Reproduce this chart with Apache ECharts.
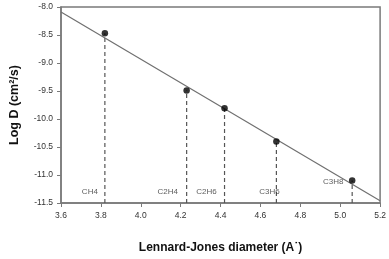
<!DOCTYPE html>
<html>
<head>
<meta charset="utf-8">
<script src="https://cdn.jsdelivr.net/npm/echarts@6/dist/echarts.min.js"></script>
<style>html,body{margin:0;padding:0;background:#fff}#c{width:389px;height:259px}</style>
</head>
<body>
<div id="c"></div>
<script>
const gases = ['CH4', 'C2H4', 'C2H6', 'C3H6', 'C3H8'];
const ljDiameter = [3.82, 4.23, 4.42, 4.68, 5.06];
const logD = [-8.47, -9.49, -9.81, -10.40, -11.10];
const fitLine = [[3.6, -8.09], [5.2, -11.46]];
const xTicks = { min: 3.6, max: 5.2, step: 0.2 };
const yTicks = { min: -11.5, max: -8.0, step: 0.5 };

// label placement styles (pixel offsets), not data
const labelOffsets = [[-15, -11], [-19, -11], [-18, -11], [-7, -11], [-19, 1]];

const chart = echarts.init(document.getElementById('c'), null, { renderer: 'canvas' });
const font = 'Liberation Sans, Arial, sans-serif';

const series = [];
series.push({
  type: 'line', data: fitLine, symbol: 'none', silent: true,
  lineStyle: { color: '#707070', width: 1.2 }, z: 2
});
ljDiameter.forEach((x, i) => {
  series.push({
    type: 'line', data: [[x, yTicks.min], [x, logD[i]]], symbol: 'none', silent: true,
    lineStyle: { color: '#555', width: 1.2, type: [4, 3] }, z: 1
  });
});
series.push({
  type: 'scatter', data: ljDiameter.map((x, i) => [x, logD[i]]),
  symbol: 'circle', symbolSize: 6.5, itemStyle: { color: '#000' }, z: 5
});
series.push({
  type: 'scatter', symbolSize: 0, silent: true, z: 6,
  data: gases.map((g, i) => ({
    value: i === 4 ? [ljDiameter[i], logD[i]] : [ljDiameter[i], yTicks.min],
    name: g,
    label: { show: true, formatter: g, position: 'inside', offset: labelOffsets[i],
      fontSize: 8, color: '#333', fontFamily: font }
  }))
});

chart.setOption({
  animation: false,
  grid: { left: 61, right: 8, top: 7, bottom: 54, show: true, borderColor: '#7a7a7a', borderWidth: 1.5, backgroundColor: 'transparent' },
  xAxis: {
    type: 'value', min: xTicks.min, max: xTicks.max, interval: xTicks.step,
    axisLine: { lineStyle: { color: '#7a7a7a', width: 1.5 } },
    axisTick: { show: true, length: 4, lineStyle: { color: '#7a7a7a' } },
    splitLine: { show: false },
    axisLabel: { fontSize: 8.5, color: '#333', margin: 8, fontFamily: font, formatter: v => v.toFixed(1) },
    name: 'Lennard-Jones diameter (A\u02D9)', nameLocation: 'middle', nameGap: 39,
    nameTextStyle: { fontSize: 12, fontWeight: 'bold', color: '#111', fontFamily: font }
  },
  yAxis: {
    type: 'value', min: yTicks.min, max: yTicks.max, interval: yTicks.step,
    axisLine: { show: true, lineStyle: { color: '#7a7a7a', width: 1.5 } },
    axisTick: { show: true, length: 4, lineStyle: { color: '#7a7a7a' } },
    splitLine: { show: false },
    axisLabel: { fontSize: 8.5, color: '#333', margin: 8, fontFamily: font, formatter: v => v.toFixed(1) },
    name: 'Log D (cm\u00B2/s)', nameLocation: 'middle', nameGap: 40,
    nameTextStyle: { fontSize: 12.5, fontWeight: 'bold', color: '#111', fontFamily: font }
  },
  series: series
});
</script>
</body>
</html>
